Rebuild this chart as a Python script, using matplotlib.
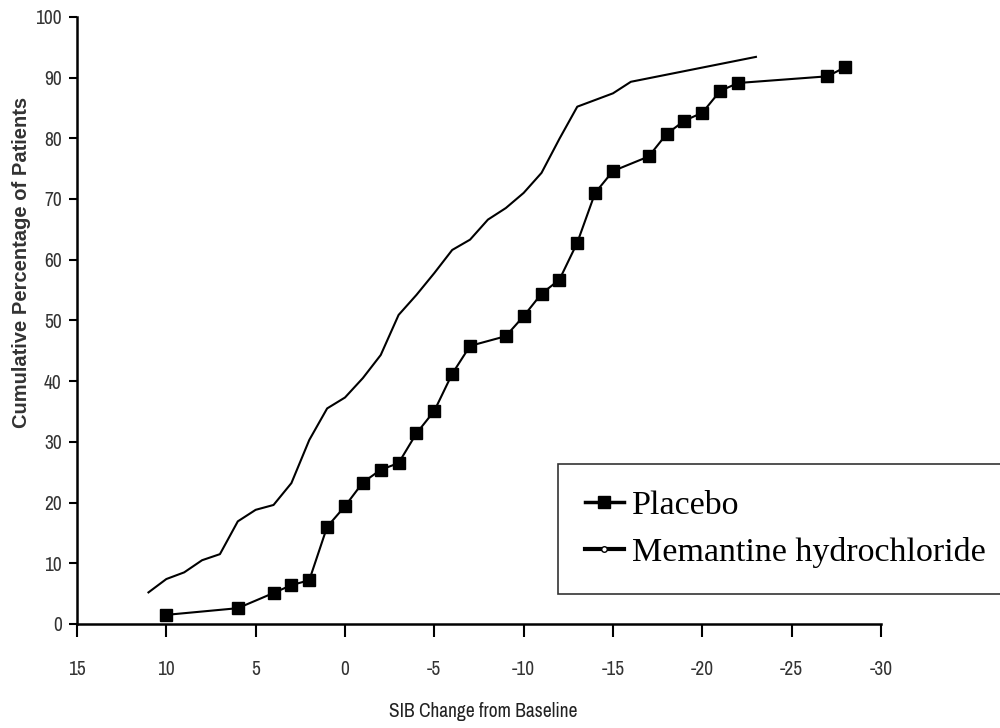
import matplotlib
matplotlib.use("Agg")
import matplotlib.pyplot as plt
from matplotlib.lines import Line2D
from matplotlib import font_manager

# Data
placebo_x = [10, 6, 4, 3, 2, 1, 0, -1, -2, -3, -4, -5, -6, -7, -9, -10, -11, -12,
             -13, -14, -15, -17, -18, -19, -20, -21, -22, -27, -28]
placebo_y = [1.5, 2.6, 5.1, 6.4, 7.2, 16.0, 19.4, 23.3, 25.4, 26.5, 31.4, 35.1, 41.2,
             45.8, 47.4, 50.7, 54.4, 56.7, 62.8, 71.0, 74.6, 77.0, 80.7, 82.9, 84.2,
             87.8, 89.1, 90.2, 91.7]

memantine_x = [11, 10, 9, 8, 7, 6, 5, 4, 3, 2, 1, 0, -1, -2, -3, -4, -5, -6, -7, -8,
               -9, -10, -11, -12, -13, -14, -15, -16, -23]
memantine_y = [5.2, 7.4, 8.5, 10.5, 11.5, 16.9, 18.8, 19.6, 23.2, 30.3, 35.5, 37.3,
               40.5, 44.3, 50.9, 54.2, 57.8, 61.6, 63.3, 66.6, 68.5, 71.0, 74.3, 79.9,
               85.2, 86.3, 87.4, 89.3, 93.4]

x_ticks = [15, 10, 5, 0, -5, -10, -15, -20, -25, -30]
y_ticks = [0, 10, 20, 30, 40, 50, 60, 70, 80, 90, 100]

series_names = ["Placebo", "Memantine hydrochloride"]

# pick a condensed sans font if one is installed
names = sorted({f.name for f in font_manager.fontManager.ttflist})
cond = [n for n in names if ("Narrow" in n or "Condensed" in n) and "Mono" not in n
        and "Serif" not in n]
narrow = (cond[:1] if cond else []) + ["Liberation Sans", "DejaVu Sans"]

fig = plt.figure(figsize=(10, 7.28), dpi=100)
ax = fig.add_axes([0.077, 0.1429, 0.804, 0.834])

ax.plot(placebo_x, placebo_y, color="black", lw=1.5, marker="s", markersize=8.5,
        markerfacecolor="black", markeredgecolor="black")
ax.plot(memantine_x, memantine_y, color="black", lw=1.5)

ax.set_xlim(15, -30)
ax.set_ylim(0, 100)
ax.set_xticks(x_ticks)
ax.set_yticks(y_ticks)
ax.set_xticklabels([str(v) for v in x_ticks], family=narrow, fontsize=14, color="#333333")
ax.set_yticklabels([str(v) for v in y_ticks], family=narrow, fontsize=14, color="#333333")

ax.spines["top"].set_visible(False)
ax.spines["right"].set_visible(False)
ax.spines["left"].set_linewidth(1.8)
ax.spines["bottom"].set_linewidth(1.8)
ax.tick_params(axis="x", direction="out", length=9, width=1.5, pad=17)
ax.tick_params(axis="y", direction="out", length=6, width=1.5, pad=5)

ax.set_xlabel("SIB Change from Baseline", family=narrow, fontsize=14,
              fontweight="bold", color="#222222")
ax.xaxis.set_label_coords(0.505, -0.128)
ax.set_ylabel("Cumulative Percentage of Patients", family="Liberation Sans",
              fontsize=14.5, fontweight="bold", color="#333333")
ax.yaxis.set_label_coords(-0.057, 0.596)

handles = [
    Line2D([], [], color="black", lw=2.5, marker="s", markersize=8),
    Line2D([], [], color="black", lw=3, marker="o", markersize=4,
           markerfacecolor="white", markeredgecolor="black"),
]
leg = fig.legend(handles, series_names, loc="upper left",
                 bbox_to_anchor=(0.558, 1 - 464 / 728),
                 prop={"family": "Liberation Serif", "size": 24.5},
                 frameon=True, fancybox=False, edgecolor="black",
                 handlelength=1.15, handletextpad=0.25, labelspacing=0.45,
                 borderpad=0.78, borderaxespad=0)
leg.get_frame().set_linewidth(1.2)

fig.savefig("out.png", dpi=100)
